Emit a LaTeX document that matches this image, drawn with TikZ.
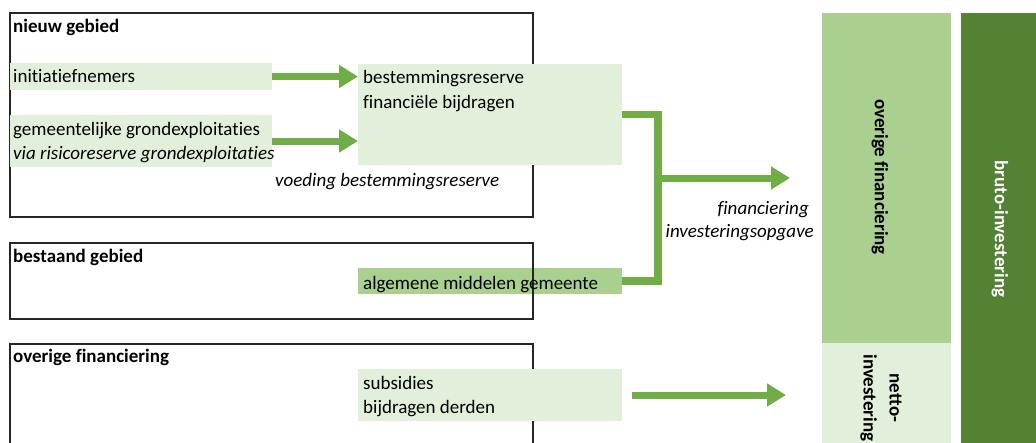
\documentclass[tikz,border=0pt]{standalone}
\usepackage{fontspec}
\setmainfont[Ligatures={NoCommon,NoRequired,NoContextual}]{Carlito}
\usetikzlibrary{arrows.meta}
\definecolor{lightg}{HTML}{E2EFDA}
\definecolor{midg}{HTML}{A9D08E}
\definecolor{darkg}{HTML}{548235}
\definecolor{arrg}{HTML}{70AD47}
\newcommand\myfs{\fontsize{19}{26}\selectfont}
\begin{document}
\begin{tikzpicture}[x=1pt,y=-1pt,
  bar/.style={fill=#1, draw=none, inner sep=0pt, outer sep=0pt, anchor=north west},
  frame/.style={draw=black!85, line width=1.3pt, inner sep=0pt, outer sep=0pt, anchor=north west},
  txt/.style={anchor=base west, inner sep=0pt, font=\myfs},
  btxt/.style={anchor=base west, inner sep=0pt, font=\myfs\bfseries},
  itxt/.style={anchor=base west, inner sep=0pt, font=\myfs\itshape},
  vtxt/.style={rotate=-90, inner sep=0pt, font=\myfs\bfseries, align=center},
  flow/.style={draw=arrg, line width=7pt, -{Triangle[length=19pt,width=22pt]}},
  joinline/.style={draw=arrg, line width=7.5pt, line join=miter},
]
\useasboundingbox (0,0) rectangle (1036,442);
\clip (0,0) rectangle (1036,442);

% fill that lies under the frame line
\node[bar=midg, minimum width=264pt, minimum height=26pt] (alg) at (358,268) {};

% frames
\node[frame, minimum width=523pt, minimum height=204pt] (nieuw) at (10,13) {};
\node[frame, minimum width=523pt, minimum height=76pt] (bestaand) at (10,243) {};
\node[frame, minimum width=523pt, minimum height=120pt] (overig) at (10,344) {};

% green fills
\node[bar=lightg, minimum width=262pt, minimum height=27pt] (init) at (10,63) {};
\node[bar=lightg, minimum width=262pt, minimum height=52pt] (gem) at (10,115) {};
\node[bar=lightg, minimum width=264pt, minimum height=101pt] (best) at (358,64) {};
\node[bar=lightg, minimum width=264pt, minimum height=52pt] (sub) at (358,369) {};

% columns
\node[bar=midg, minimum width=129pt, minimum height=330pt] (colov) at (822,13) {};
\node[bar=lightg, minimum width=129pt, minimum height=120pt] (colnet) at (822,343) {};
\node[bar=darkg, minimum width=80pt, minimum height=450pt] (colbr) at (961,13) {};

% texts
\node[btxt] (tnieuw) at (13,32) {nieuw gebied};
\node[txt] (tinit) at (13,82) {initiatiefnemers};
\node[txt] (tgem1) at (13,135) {gemeentelijke grondexploitaties};
\node[itxt] (tgem2) at (13,159) {via risicoreserve grondexploitaties};
\node[txt] (tbest1) at (363,83) {bestemmingsreserve};
\node[txt] (tbest2) at (363,108) {financiële bijdragen};
\node[itxt] (tvoed) at (275,186) {voeding bestemmingsreserve};
\node[btxt] (tbest) at (13,262) {bestaand gebied};
\node[txt] (talg) at (363,289) {algemene middelen gemeente};
\node[btxt] (tover) at (13,362) {overige financiering};
\node[txt] (tsub1) at (363,389) {subsidies};
\node[txt] (tsub2) at (363,413) {bijdragen derden};
\node[itxt, anchor=base east] (tfin1) at (809,214) {financiering};
\node[itxt, anchor=base east] (tfin2) at (814,237) {investeringsopgave};

\node[vtxt] (tcolov) at (880,177) {overige financiering};
\node[vtxt] (tcolnet) at (881,398) {netto-\\investering};
\node[vtxt, text=white] (tcolbr) at (1000,229) {bruto-investering};

% connectors
\coordinate (jA) at (658,178);
\coordinate (finTip) at (790,178);
\coordinate (subTip) at (786,395);
\draw[flow] (init.east) -- (best.west |- init.east);
\draw[flow] (gem.east) -- (best.west |- gem.east);
\draw[joinline] (best.east) -| (jA |- alg.east) -- (alg.east);
\draw[flow] ([xshift=-3.75pt]jA) -- (finTip);
\draw[flow] ([xshift=10pt]sub.east) -- (subTip);
\end{tikzpicture}
\end{document}
